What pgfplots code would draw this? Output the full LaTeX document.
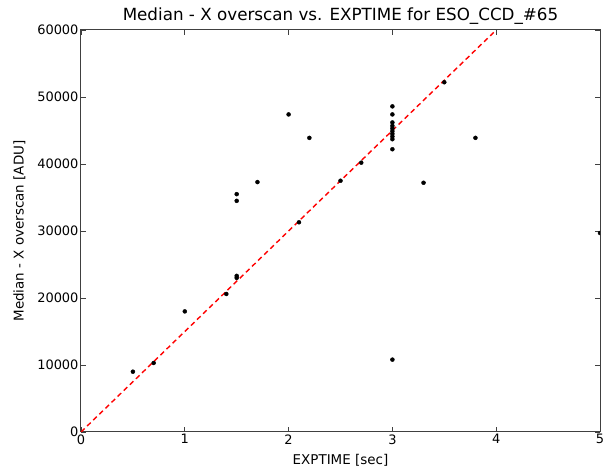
\documentclass[border=0pt]{standalone}
\usepackage{pgfplots}
\pgfplotsset{compat=1.18}
\usepackage{fontspec}
\setmainfont{DejaVu Sans}
\begin{document}
\begin{tikzpicture}
\begin{axis}[
  scale only axis,
  width=519bp, height=402bp,
  xmin=0, xmax=5, ymin=0, ymax=60000,
  xtick={0,1,2,3,4,5}, ytick={0,10000,20000,30000,40000,50000,60000},
  scaled y ticks=false,
  /pgf/number format/.cd, 1000 sep={}, assume math mode=true,
  /pgfplots/.cd,
  tick align=inside, tick pos=both,
  major tick length=5bp,
  ticklabel style={font=\fontsize{13}{15}\selectfont},
  yticklabel style={xshift=1bp},
  xticklabel style={yshift=1bp},
  title={Median - X overscan vs. EXPTIME for ESO\_CCD\_\#65},
  title style={font=\fontsize{16.8}{19}\selectfont, yshift=-4bp},
  xlabel={EXPTIME [sec]},
  ylabel={Median - X overscan [ADU]},
  label style={font=\fontsize{13.5}{15}\selectfont},
  xlabel style={yshift=-3bp},
  ylabel style={yshift=5bp},
  axis line style={line width=1bp, black!75},
  every tick/.style={black!75, line width=0.8bp},
  clip marker paths=true,
]
\addplot[red, dashed, line width=1.4bp, dash pattern=on 5bp off 3.5bp] coordinates {(0,0) (4,60000)};
\addplot[only marks, mark=*, mark size=2bp, black] coordinates {
(0.5,9000) (0.7,10300) (1.0,18000) (1.4,20600) (1.5,23000) (1.5,23300)
(1.5,34500) (1.5,35500) (1.7,37300) (2.0,47400) (2.1,31300) (2.2,43900)
(2.5,37500) (2.7,40200)
(3.0,48600) (3.0,47400) (3.0,46200) (3.0,45700) (3.0,45300) (3.0,44900) (3.0,44500) (3.0,44100) (3.0,43700) (3.0,42200)
(3.0,10800) (3.3,37200) (3.5,52200) (3.8,43900) (5.0,29700)
};
\end{axis}
\pgfresetboundingbox
\path ([xshift=-81bp,yshift=-41bp]current axis.south west) rectangle ([xshift=5bp,yshift=30bp]current axis.north east);
\end{tikzpicture}
\end{document}
